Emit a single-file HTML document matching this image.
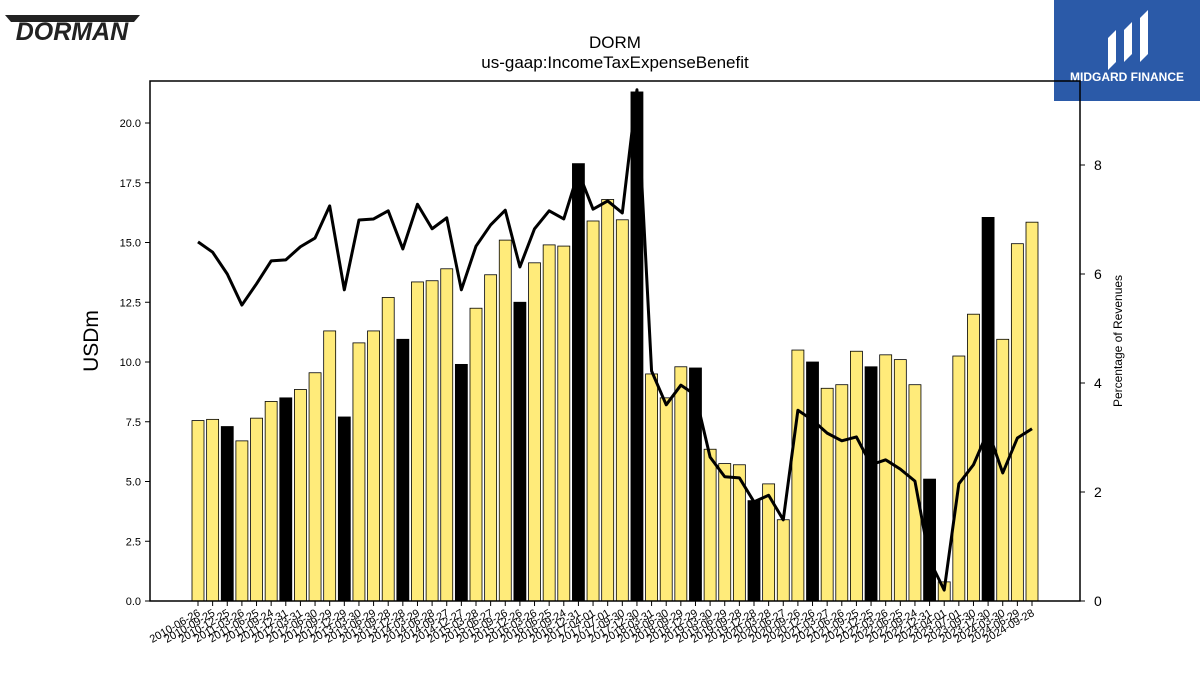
<!DOCTYPE html>
<html><head><meta charset="utf-8"><style>
body{margin:0;background:#fff;font-family:"Liberation Sans","DejaVu Sans",sans-serif}
svg{display:block}
</style></head><body>
<svg id="c" width="1200" height="675" xmlns="http://www.w3.org/2000/svg">
<g>
<polygon points="5,15 140,15 134,22 11,22" fill="#222"/>
<text x="72" y="40" text-anchor="middle" font-size="25" font-weight="bold" font-style="italic" fill="#222" font-family="Liberation Sans, sans-serif">DORMAN</text>
</g>
<g>
<rect x="1054" y="0" width="146" height="101" fill="#2b5aa8"/>
<path d="M1108,70 L1108,38 L1116,30 L1116,62 Z M1124,62 L1124,30 L1132,22 L1132,54 Z M1140,62 L1140,18 L1148,10 L1148,54 Z" fill="#fff"/>
<text x="1127" y="81" text-anchor="middle" font-size="12" font-weight="bold" fill="#fff">MIDGARD FINANCE</text>
</g>
<text x="615" y="48" text-anchor="middle" font-size="17">DORM</text>
<text x="615" y="68" text-anchor="middle" font-size="17">us-gaap:IncomeTaxExpenseBenefit</text>
<text transform="translate(98,341) rotate(-90)" text-anchor="middle" font-size="21">USDm</text>
<text transform="translate(1122,341) rotate(-90)" text-anchor="middle" font-size="12">Percentage of Revenues</text>
<g id="plot"></g>
</svg>
<script>
const dates=["2010-06-26","2010-09-25","2010-12-25","2011-03-26","2011-06-25","2011-09-24","2011-12-31","2012-03-31","2012-06-30","2012-09-29","2012-12-29","2013-03-30","2013-06-29","2013-09-28","2013-12-28","2014-03-29","2014-06-28","2014-09-27","2014-12-27","2015-03-28","2015-06-27","2015-09-26","2015-12-26","2016-03-26","2016-06-25","2016-09-24","2016-12-31","2017-04-01","2017-07-01","2017-09-30","2017-12-30","2018-03-31","2018-06-30","2018-09-29","2018-12-29","2019-03-30","2019-06-29","2019-09-28","2019-12-28","2020-03-28","2020-06-27","2020-09-26","2020-12-26","2021-03-27","2021-06-26","2021-09-25","2021-12-25","2022-03-26","2022-06-25","2022-09-24","2022-12-31","2023-04-01","2023-07-01","2023-09-30","2023-12-30","2024-03-30","2024-06-29","2024-09-28"];
const taxValues=[7.55,7.6,7.3,6.7,7.65,8.35,8.5,8.85,9.55,11.3,7.7,10.8,11.3,12.7,10.95,13.35,13.4,13.9,9.9,12.25,13.65,15.1,12.5,14.15,14.9,14.85,18.3,15.9,16.8,15.95,21.3,9.5,8.5,9.8,9.75,6.35,5.75,5.7,4.2,4.9,3.4,10.5,10.0,8.9,9.05,10.45,9.8,10.3,10.1,9.05,5.1,0.8,10.25,12.0,16.05,10.95,14.95,15.85];
const pctValues=[6.59,6.40,6.0,5.43,5.82,6.24,6.26,6.50,6.66,7.25,5.71,6.99,7.01,7.16,6.46,7.28,6.83,7.03,5.71,6.51,6.90,7.17,6.13,6.83,7.16,7.01,7.87,7.19,7.34,7.12,9.38,4.22,3.60,3.96,3.78,2.64,2.28,2.26,1.82,1.94,1.49,3.50,3.32,3.08,2.94,3.01,2.50,2.59,2.42,2.20,0.75,0.20,2.15,2.50,3.12,2.35,2.99,3.16];
const blackIdx=[2,6,10,14,18,22,26,30,34,38,42,46,50,54];
const leftTicks=[0,2.5,5,7.5,10,12.5,15,17.5,20];
const rightTicks=[0,2,4,6,8];
const L=150,R=1080,T=81,B=601;
const x=i=>198+i*(1032-198)/(dates.length-1);
const y=v=>B-v*(B-123)/20;
const y2=v=>B-v*(B-165)/8;
const g=document.getElementById('plot');
const NS='http://www.w3.org/2000/svg';
function mk(t,a){const e=document.createElementNS(NS,t);for(const k in a)e.setAttribute(k,a[k]);g.appendChild(e);return e;}
taxValues.forEach((v,i)=>{
 const r=mk('rect',{x:x(i)-6,y:y(v),width:12,height:B-y(v),fill:blackIdx.includes(i)?'#000':'#ffeb7a',stroke:'#000','stroke-width':0.8});
 
 
});
const ln=mk('polyline',{points:pctValues.map((v,i)=>x(i)+','+y2(v)).join(' '),fill:'none',stroke:'#000','stroke-width':3,'stroke-linejoin':'round'});


const fr=mk('rect',{x:L,y:T,width:R-L,height:B-T,fill:'none',stroke:'#000','stroke-width':1.5});


leftTicks.forEach(t=>{
 mk('line',{x1:L-5,x2:L,y1:y(t),y2:y(t),stroke:'#000'});
 const tx=mk('text',{x:L-9,y:y(t)+4,'text-anchor':'end','font-size':11});
 tx.textContent=t.toFixed(1);
 
 
});
rightTicks.forEach(t=>{
 mk('line',{x1:R,x2:R+5,y1:y2(t),y2:y2(t),stroke:'#000'});
 const tx=mk('text',{x:R+14,y:y2(t)+5,'font-size':14});
 tx.textContent=t;
 
 
});
dates.forEach((d,i)=>{
 mk('line',{x1:x(i),x2:x(i),y1:B,y2:B+5,stroke:'#000'});
 const tx=mk('text',{x:x(i)+3,y:B+14,'text-anchor':'end','font-size':11,transform:`rotate(-30 ${x(i)+3} ${B+14})`});
 tx.textContent=d;
 
 
});
</script>
</body></html>
